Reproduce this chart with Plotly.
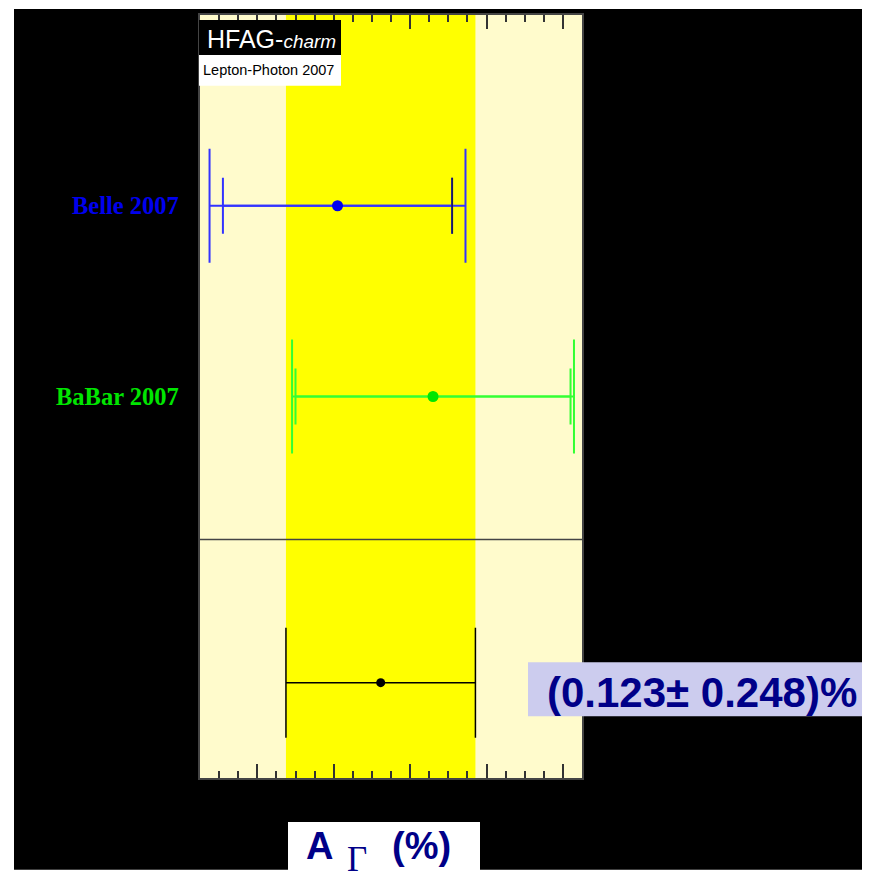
import plotly.graph_objects as go

# ---- data ----
experiments = ["Belle 2007", "BaBar 2007"]
exp_values = [0.01, 0.26]
exp_stat = [0.30, 0.36]
exp_total = [0.335, 0.369]
exp_pos = [3, 2]
exp_colors = ["#0000ee", "#00e600"]
exp_line_colors = ["#3333ff", "#33ff33"]

avg_value = 0.123
avg_error = 0.248
avg_pos = 0.5
separator_pos = 1.25
avg_label = "(0.123\u00b1 0.248)%"

x_range = [-0.35, 0.65]
y_range = [0, 4]

# page offset of the browser body (8px) compensated
OFF = 8
W, H = 870 - OFF, 881 - OFF
L, R, T, B = 200 - OFF, 582 - OFF, 13 - OFF, 778 - OFF


def px(x):
    return (x - OFF - L) / (R - L)


def py(y):
    return (B - (y - OFF)) / (B - T)


fig = go.Figure()

for name, v, st, tot, yp, c, lc in zip(experiments, exp_values, exp_stat, exp_total,
                                        exp_pos, exp_colors, exp_line_colors):
    # inner (statistical) error bar
    fig.add_trace(go.Scatter(
        x=[v], y=[yp], mode="markers", marker=dict(size=1, opacity=0),
        error_x=dict(type="data", array=[st], color=lc, thickness=2, width=28),
        showlegend=False, hoverinfo="skip"))
    # outer (total) error bar + point
    fig.add_trace(go.Scatter(
        x=[v], y=[yp], mode="markers", name=name,
        marker=dict(size=11, color=c),
        error_x=dict(type="data", array=[tot], color=lc, thickness=2, width=57),
        showlegend=False))
    fig.add_annotation(x=px(181), xref="paper", y=yp, yref="y", text="<b>%s</b>" % name,
                       showarrow=False, xanchor="right", yanchor="middle",
                       font=dict(family="Liberation Serif", size=24.5, color=c))

# dark inner cap on the right side of Belle
fig.add_trace(go.Scatter(
    x=[exp_values[0] + exp_stat[0]], y=[exp_pos[0]], mode="markers",
    marker=dict(size=1, opacity=0),
    error_x=dict(type="data", array=[0], color="#1a1a40", thickness=1.5, width=28),
    showlegend=False, hoverinfo="skip"))

# average
fig.add_trace(go.Scatter(
    x=[avg_value], y=[avg_pos], mode="markers", marker=dict(size=9, color="black"),
    error_x=dict(type="data", array=[avg_error], color="black", thickness=1.5, width=55),
    showlegend=False))

shapes = [
    # black background
    dict(type="rect", xref="paper", yref="paper", x0=px(14), x1=px(866), y0=py(870), y1=py(7),
         fillcolor="black", line=dict(width=0), layer="below"),
    # pale plot background
    dict(type="rect", xref="paper", yref="paper", x0=0, x1=1, y0=0, y1=1,
         fillcolor="#fffbcc", line=dict(width=0), layer="below"),
    # average band
    dict(type="rect", xref="x", yref="paper", x0=avg_value - avg_error, x1=avg_value + avg_error,
         y0=0, y1=1, fillcolor="#ffff00", line=dict(width=0), layer="below"),
    # separator
    dict(type="line", xref="paper", yref="y", x0=0, x1=1, y0=separator_pos, y1=separator_pos,
         line=dict(color="#444444", width=1.5), layer="above"),
    # HFAG box
    dict(type="rect", xref="paper", yref="paper", x0=px(199), x1=px(341), y0=py(53), y1=py(18),
         fillcolor="black", line=dict(width=0), layer="above"),
    dict(type="rect", xref="paper", yref="paper", x0=px(199), x1=px(341), y0=py(84), y1=py(53),
         fillcolor="white", line=dict(width=0), layer="above"),
    # result label box
    dict(type="rect", xref="paper", yref="paper", x0=px(528), x1=px(866), y0=py(716), y1=py(662),
         fillcolor="#ccccee", line=dict(width=0), layer="above"),
    # axis title box
    dict(type="rect", xref="paper", yref="paper", x0=px(288), x1=px(480), y0=py(881), y1=py(822),
         fillcolor="white", line=dict(width=0), layer="above"),
]

annotations = [
    dict(x=px(205), y=py(37), xref="paper", yref="paper", xanchor="left", yanchor="middle",
         text="HFAG-<i><span style='font-size:19px'>charm</span></i>", showarrow=False,
         font=dict(family="Liberation Sans", size=25, color="white")),
    dict(x=px(201), y=py(68), xref="paper", yref="paper", xanchor="left", yanchor="middle",
         text="Lepton-Photon 2007", showarrow=False,
         font=dict(family="Liberation Sans", size=14.5, color="black")),
    dict(x=px(545), y=py(692), xref="paper", yref="paper", xanchor="left", yanchor="middle",
         text="<b>%s</b>" % avg_label, showarrow=False,
         font=dict(family="Liberation Sans", size=42, color="#000088")),
    dict(x=px(304), y=py(846), xref="paper", yref="paper", xanchor="left", yanchor="middle",
         text="<b>A</b>", showarrow=False,
         font=dict(family="Liberation Sans", size=38, color="#000088")),
    dict(x=px(345), y=py(860), xref="paper", yref="paper", xanchor="left", yanchor="middle",
         text="\u0393", showarrow=False,
         font=dict(family="Liberation Serif", size=35, color="#000088")),
    dict(x=px(390), y=py(846), xref="paper", yref="paper", xanchor="left", yanchor="middle",
         text="<b>(%)</b>", showarrow=False,
         font=dict(family="Liberation Sans", size=38, color="#000088")),
]

fig.update_layout(
    width=W, height=H,
    margin=dict(l=L, r=W - R, t=T, b=H - B, pad=0),
    paper_bgcolor="white", plot_bgcolor="rgba(0,0,0,0)",
    shapes=shapes, annotations=fig.layout.annotations + tuple(annotations),
    hovermode=False,
)
fig.update_xaxes(range=x_range, showgrid=False, zeroline=False, showticklabels=False,
                 ticks="inside", dtick=0.2, tick0=0, ticklen=14, tickwidth=1.5, tickcolor="#333333",
                 minor=dict(ticks="inside", dtick=0.05, ticklen=7, tickwidth=1.5, tickcolor="#333333",
                            showgrid=False),
                 showline=True, linecolor="#444444", linewidth=2, mirror="ticks")
fig.update_yaxes(range=y_range, showgrid=False, zeroline=False, showticklabels=False, ticks="",
                 showline=True, linecolor="#444444", linewidth=2, mirror=True)

fig.write_html("out.html")
